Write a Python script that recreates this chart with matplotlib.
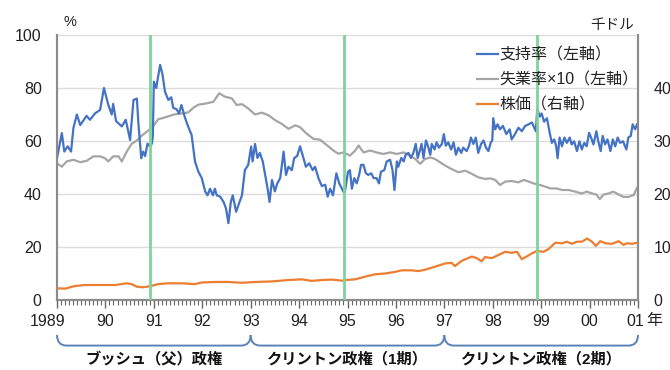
import numpy as np
import matplotlib
matplotlib.use("Agg")
import matplotlib.pyplot as plt
import matplotlib.transforms as mtransforms
from matplotlib.path import Path
from matplotlib.patches import PathPatch

plt.rcParams["font.family"] = ["Liberation Sans", "Noto Sans CJK JP"]

# ---- data -------------------------------------------------------------
# Presidential approval rating (%), poll dates as decimal years
approval_t = [
    1989.00, 1989.10, 1989.15, 1989.22, 1989.29, 1989.34, 1989.41, 1989.48, 1989.61, 1989.68,
    1989.79, 1989.89, 1989.97, 1990.06, 1990.13, 1990.16, 1990.22, 1990.34, 1990.42, 1990.51,
    1990.58, 1990.65, 1990.68, 1990.74, 1990.78, 1990.82, 1990.87, 1990.92, 1990.96, 1990.98,
    1991.00, 1991.05, 1991.08, 1991.13, 1991.18, 1991.23, 1991.30, 1991.36, 1991.40, 1991.47,
    1991.52, 1991.57, 1991.64, 1991.71, 1991.78, 1991.85, 1991.92, 1991.99,
    1992.06, 1992.11, 1992.16, 1992.22, 1992.26, 1992.30, 1992.37, 1992.44, 1992.49, 1992.54,
    1992.59, 1992.63, 1992.70, 1992.77, 1992.82, 1992.88, 1992.95, 1993.01, 1993.04, 1993.09,
    1993.14, 1993.19, 1993.25, 1993.30, 1993.35, 1993.39, 1993.44, 1993.50, 1993.55, 1993.61,
    1993.68, 1993.73, 1993.78, 1993.85, 1993.90, 1993.96, 1994.02, 1994.09, 1994.14, 1994.21,
    1994.28, 1994.33, 1994.40, 1994.47, 1994.54, 1994.59, 1994.64, 1994.70, 1994.77, 1994.83,
    1994.90, 1994.94,
    1995.01, 1995.05, 1995.09, 1995.14, 1995.19, 1995.24, 1995.28, 1995.33, 1995.38, 1995.43,
    1995.49, 1995.54, 1995.60, 1995.65, 1995.69, 1995.76, 1995.81, 1995.88, 1995.93, 1995.97,
    1996.02, 1996.05, 1996.11, 1996.16, 1996.20, 1996.26, 1996.31, 1996.36, 1996.41, 1996.45,
    1996.50, 1996.53, 1996.57, 1996.62, 1996.66, 1996.71, 1996.74, 1996.80, 1996.84, 1996.89,
    1996.95, 1996.99, 1997.03, 1997.08, 1997.14, 1997.19, 1997.24, 1997.29, 1997.35, 1997.39,
    1997.46, 1997.51, 1997.55, 1997.60, 1997.65, 1997.70, 1997.76, 1997.81, 1997.86, 1997.91,
    1997.96, 1997.99,
    1998.01, 1998.05, 1998.10, 1998.15, 1998.21, 1998.28, 1998.35, 1998.39, 1998.46, 1998.53,
    1998.60, 1998.67, 1998.74, 1998.81, 1998.84, 1998.89, 1998.92, 1998.97, 1999.01, 1999.06,
    1999.12, 1999.17, 1999.22, 1999.27, 1999.31, 1999.34, 1999.38, 1999.43, 1999.48, 1999.53,
    1999.59, 1999.63, 1999.68, 1999.74, 1999.79, 1999.84, 1999.89, 1999.94, 1999.99, 2000.03,
    2000.08, 2000.14, 2000.18, 2000.23, 2000.27, 2000.32, 2000.37, 2000.43, 2000.48, 2000.53,
    2000.58, 2000.63, 2000.69, 2000.76, 2000.80, 2000.85, 2000.89, 2000.94, 2000.98,
]
approval = [
    53.5, 63.0, 56.0, 58.0, 56.0, 65.0, 70.0, 66.0, 69.5, 68.0,
    70.5, 71.7, 80.0, 73.6, 70.0, 74.0, 67.5, 65.5, 68.0, 60.4,
    75.5, 76.0, 67.0, 53.5, 56.0, 54.3, 59.0, 58.0, 59.0, 62.0,
    82.4, 80.0, 83.4, 88.7, 85.0, 78.6, 75.5, 76.5, 72.5, 72.0,
    70.4, 73.6, 69.0, 65.4, 62.3, 52.3, 48.4, 46.0,
    41.0, 39.5, 42.0, 39.5, 42.0, 39.5, 39.0, 37.0, 34.6, 29.0,
    37.0, 39.5, 33.3, 37.0, 39.5, 49.0, 51.0, 57.9, 52.3, 58.9,
    53.6, 55.5, 52.3, 47.2, 42.0, 37.0, 45.3, 41.0, 44.0, 46.0,
    56.0, 47.2, 50.3, 49.0, 53.6, 54.3, 58.0, 53.6, 50.3, 51.6,
    49.0, 50.3, 46.0, 43.0, 43.5, 39.0, 42.0, 39.5, 47.8, 44.0,
    41.5, 40.0,
    48.4, 49.0, 42.0, 46.0, 44.0, 47.2, 51.0, 51.0, 47.8, 47.2,
    47.8, 46.0, 46.0, 44.0, 48.4, 49.0, 52.3, 52.9, 49.0, 41.5,
    52.3, 50.3, 53.6, 52.3, 54.8, 55.5, 53.6, 55.5, 58.9, 53.6,
    56.8, 58.9, 53.6, 60.2, 58.2, 54.8, 58.9, 56.8, 59.5, 57.5,
    58.9, 62.6, 58.2, 59.5, 56.8, 59.5, 54.8, 57.5, 55.5, 57.5,
    56.2, 58.2, 61.3, 58.9, 61.3, 55.5, 58.9, 60.2, 57.5, 56.2,
    59.5, 60.2,
    68.6, 64.4, 66.3, 64.4, 65.7, 62.6, 64.4, 60.6, 62.6, 65.0,
    63.7, 65.7, 66.3, 67.0, 65.7, 63.7, 72.3, 69.2, 70.4, 67.3,
    68.6, 63.7, 59.3, 60.6, 58.0, 53.5, 61.3, 58.0, 61.3, 59.3,
    61.3, 58.7, 59.9, 56.2, 59.9, 56.8, 59.3, 58.0, 63.1, 61.3,
    58.7, 63.7, 59.9, 56.2, 61.9, 58.7, 60.6, 56.2, 60.6, 58.0,
    61.3, 59.3, 59.9, 56.8, 61.3, 61.9, 66.3, 64.4, 66.3,
]

# Unemployment rate x10 (left axis)
unemp_t = [
    1989.00, 1989.10, 1989.20, 1989.34, 1989.48, 1989.61, 1989.75, 1989.89, 1989.99, 1990.06,
    1990.16, 1990.27, 1990.34, 1990.44, 1990.54, 1990.65, 1990.75, 1990.89, 1990.99, 1991.09,
    1991.23, 1991.33, 1991.44, 1991.58, 1991.71, 1991.82, 1991.92,
    1992.09, 1992.23, 1992.35, 1992.47, 1992.61, 1992.71, 1992.82, 1992.95, 1993.09, 1993.23,
    1993.37, 1993.51, 1993.64, 1993.78, 1993.92, 1994.02, 1994.16, 1994.30, 1994.43, 1994.57,
    1994.71, 1994.81, 1994.92,
    1995.05, 1995.16, 1995.23, 1995.33, 1995.47, 1995.60, 1995.74, 1995.88, 1996.02, 1996.16,
    1996.29, 1996.40, 1996.50, 1996.60, 1996.71, 1996.81, 1996.91, 1997.02, 1997.15, 1997.29,
    1997.43, 1997.57, 1997.70, 1997.84,
    1997.95, 1998.05, 1998.15, 1998.26, 1998.39, 1998.53, 1998.64, 1998.74, 1998.84, 1998.98,
    1999.08, 1999.19, 1999.32, 1999.43, 1999.57, 1999.70, 1999.84, 1999.94, 2000.05, 2000.14,
    2000.21, 2000.29, 2000.39, 2000.49, 2000.60, 2000.70, 2000.80, 2000.91, 2000.98,
]
unemp_x10 = [
    51.6, 50.3, 52.3, 52.9, 52.0, 52.5, 54.2, 54.2, 53.5, 52.3,
    54.2, 54.2, 52.3, 56.0, 58.9, 60.2, 62.0, 64.0, 65.7, 68.2,
    68.9, 69.5, 70.1, 70.4, 70.8, 72.6, 73.7,
    74.2, 74.8, 78.0, 76.7, 76.1, 73.6, 73.9, 72.3, 70.0, 70.7,
    69.7, 67.8, 66.5, 64.6, 65.9, 65.2, 62.7, 60.8, 60.5, 58.5,
    56.4, 55.2, 55.7,
    54.5, 56.4, 58.3, 55.7, 56.4, 55.7, 55.1, 55.7, 55.1, 55.7,
    54.5, 53.2, 51.4, 53.2, 53.8, 53.2, 52.0, 50.7, 49.4, 48.2,
    48.8, 47.6, 46.3, 45.7,
    45.9, 45.3, 43.4, 44.7, 44.9, 44.4, 45.3, 44.7, 44.0, 43.4,
    42.8, 42.1, 42.1, 41.5, 41.5, 40.9, 40.2, 40.9, 40.2, 39.8,
    38.1, 39.8, 40.2, 40.9, 39.8, 38.9, 38.9, 39.6, 42.3,
]

# Stock price index, thousand dollars (right axis)
stock_t = [
    1989.00, 1989.17, 1989.37, 1989.58, 1989.78, 1989.99, 1990.20, 1990.44, 1990.54, 1990.65,
    1990.78, 1990.92, 1991.09, 1991.30, 1991.58, 1991.85, 1991.99, 1992.26, 1992.54, 1992.82,
    1993.09, 1993.43, 1993.78, 1994.06, 1994.26, 1994.47, 1994.68, 1994.88,
    1994.95, 1995.16, 1995.36, 1995.57, 1995.78, 1995.98, 1996.12, 1996.33, 1996.46, 1996.60,
    1996.81, 1997.02, 1997.15, 1997.22, 1997.36, 1997.57, 1997.67, 1997.77, 1997.84, 1997.98,
    1998.12, 1998.26, 1998.39, 1998.50, 1998.60, 1998.70, 1998.81, 1998.91, 1999.05, 1999.15,
    1999.29, 1999.43, 1999.53, 1999.63, 1999.74, 1999.84, 1999.95, 2000.05, 2000.13, 2000.22,
    2000.33, 2000.46, 2000.60, 2000.70, 2000.77, 2000.88, 2000.98,
]
stock = [
    2.20, 2.15, 2.64, 2.83, 2.83, 2.83, 2.83, 3.15, 3.00, 2.50,
    2.40, 2.60, 3.00, 3.15, 3.15, 3.00, 3.30, 3.40, 3.40, 3.25,
    3.40, 3.50, 3.77, 3.90, 3.60, 3.77, 3.85, 3.65,
    3.77, 3.90, 4.40, 4.85, 5.00, 5.30, 5.60, 5.60, 5.45, 5.70,
    6.30, 6.90, 7.00, 6.40, 7.40, 8.20, 7.90, 7.30, 8.10, 7.90,
    8.50, 9.10, 8.90, 9.10, 7.70, 8.20, 8.80, 9.25, 9.10, 9.60,
    10.80, 10.70, 11.00, 10.60, 11.00, 11.00, 11.60, 11.00, 10.20, 11.10,
    10.70, 10.60, 11.10, 10.40, 10.70, 10.60, 10.80,
]

# Midterm election markers and administrations
event_years = [1990.92, 1994.92, 1998.92]
terms = [1989, 1993, 1997, 2001]
term_names = ["ブッシュ（父）政権", "クリントン政権（1期）", "クリントン政権（2期）"]

year_ticks = list(range(1989, 2002))
year_labels = ["1989", "90", "91", "92", "93", "94", "95", "96", "97", "98", "99", "00", "01"]
left_ticks = [0, 20, 40, 60, 80, 100]
right_ticks = [0, 10, 20, 30, 40]

# ---- figure ------------------------------------------------------------
C_BLUE = "#4472c4"
C_GRAY = "#a5a5a5"
C_ORANGE = "#ed7d31"
C_GREEN = "#7fd49a"
C_SPINE = "#8c8c8c"
C_BRACE = "#5b82b8"

fig = plt.figure(figsize=(6.7, 3.7), dpi=100)
ax = fig.add_axes([57 / 670, 70 / 370, 581 / 670, 265 / 370])
ax2 = ax.twinx()

ax.plot(unemp_t, unemp_x10, color=C_GRAY, lw=1.6, label="失業率×10（左軸）", zorder=3)
ax.plot(approval_t, approval, color=C_BLUE, lw=1.6, label="支持率（左軸）", zorder=4)
ax2.plot(stock_t, stock, color=C_ORANGE, lw=1.6, label="株価（右軸）", zorder=3)
for yv in event_years:
    ax2.axvline(yv, color=C_GREEN, lw=2, zorder=5)

ax.set_xlim(1989, 2001)
ax.set_ylim(0, 100)
ax2.set_ylim(0, 50)

ax.set_yticks(left_ticks)
ax2.set_yticks(right_ticks)
ax.yaxis.grid(True, color="#dcdcdc", lw=1)
ax.set_axisbelow(True)
ax.tick_params(axis="y", length=0, pad=11, labelsize=11.5, labelcolor="#222222")
ax2.tick_params(axis="y", length=0, pad=11, labelsize=11.5, labelcolor="#222222")

ax.set_xticks(year_ticks)
ax.set_xticklabels(year_labels)
ax.set_xticks(np.arange(1989, 2001, 1 / 12), minor=True)
ax.tick_params(axis="x", which="major", length=6, width=1, color="#666666", pad=4,
               labelsize=11.5, labelcolor="#222222")
ax.tick_params(axis="x", which="minor", length=3.5, width=0.8, color="#666666")
xlabels = ax.get_xticklabels()
xlabels[0].set_transform(xlabels[0].get_transform()
                         + mtransforms.ScaledTranslation(-9 / 100, 0, fig.dpi_scale_trans))
xlabels[-1].set_transform(xlabels[-1].get_transform()
                          + mtransforms.ScaledTranslation(-3 / 100, 0, fig.dpi_scale_trans))

for a in (ax, ax2):
    a.spines["top"].set_visible(False)
    for s in ("left", "right", "bottom"):
        a.spines[s].set_color(C_SPINE)
        a.spines[s].set_linewidth(1.5)

# Administration braces beneath the time axis
btrans = mtransforms.blended_transform_factory(ax.transData, ax.transAxes)
ytop, ybot, r = -0.132, -0.172, 0.2
for i, name in enumerate(term_names):
    x0, x1 = terms[i], terms[i + 1]
    verts = [(x0, ytop), (x0, ybot), (x0 + r, ybot), (x1 - r, ybot), (x1, ybot), (x1, ytop)]
    codes = [Path.MOVETO, Path.CURVE3, Path.CURVE3, Path.LINETO, Path.CURVE3, Path.CURVE3]
    ax.add_patch(PathPatch(Path(verts, codes), fill=False, edgecolor=C_BRACE, lw=1.4,
                           transform=btrans, clip_on=False))
    ax.text((x0 + x1) / 2, -0.222, name, transform=btrans, ha="center", va="center",
            fontsize=11, fontweight="bold", color="#111111")

# Unit labels
fig.text(70 / 670, 1 - 22 / 370, "%", ha="center", va="center", fontsize=10.5, color="#222222")
fig.text(612 / 670, 1 - 25 / 370, "千ドル", ha="center", va="center", fontsize=10.5,
         color="#222222")
fig.text(646 / 670, 1 - 321 / 370, "年", ha="left", va="center", fontsize=11.5,
         color="#222222")

h1, l1 = ax.get_legend_handles_labels()
h2, l2 = ax2.get_legend_handles_labels()
handles = [h1[1], h1[0], h2[0]]
labels = [l1[1], l1[0], l2[0]]
ax2.legend(handles, labels, loc="upper left", bbox_to_anchor=(0.723, 0.955), frameon=False,
           borderpad=0, borderaxespad=0, handlelength=1.3, handletextpad=0.1,
           labelspacing=0.62, fontsize=11.5, labelcolor="#222222")

fig.savefig("out.png", dpi=100)
